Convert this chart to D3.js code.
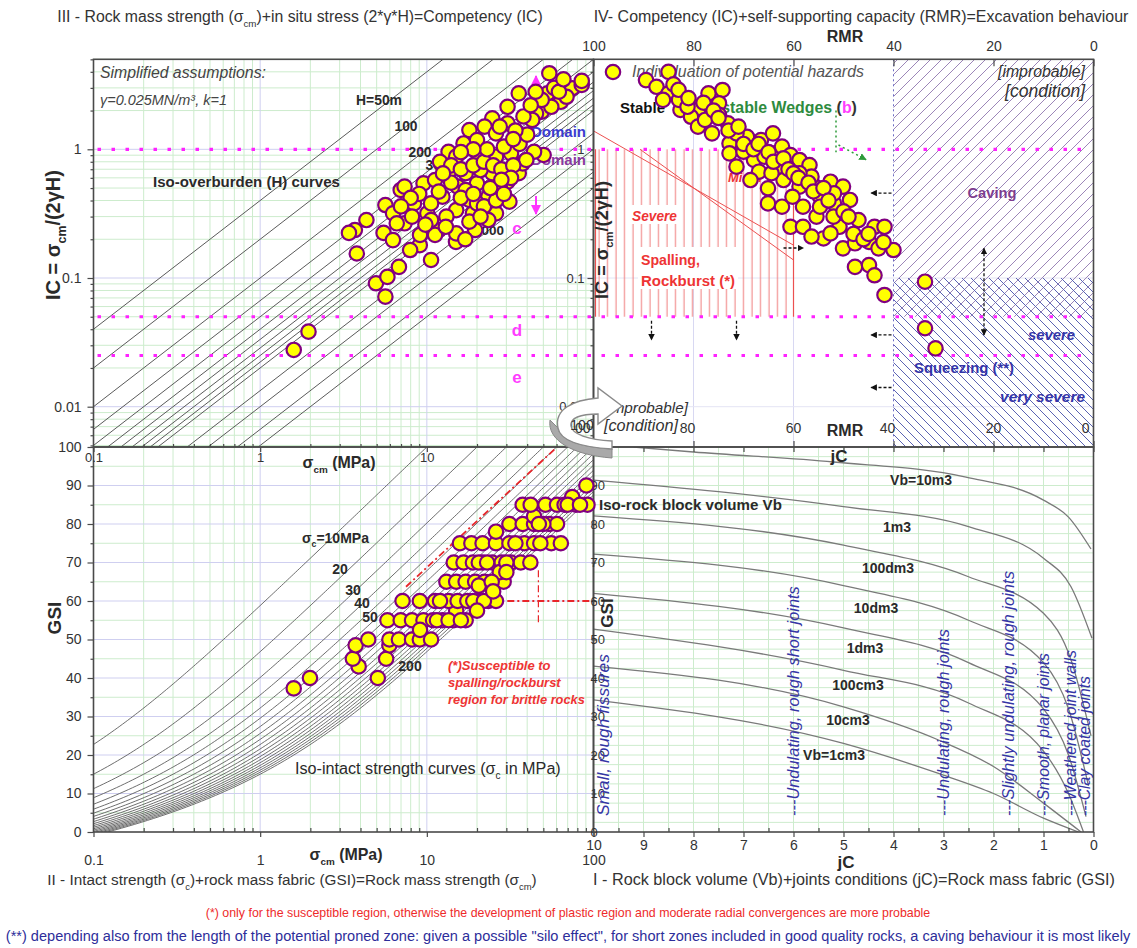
<!DOCTYPE html>
<html>
<head>
<meta charset="utf-8">
<script src="https://cdn.jsdelivr.net/npm/d3@7"></script>
<style>
  body { margin: 0; background: #fff; }
  svg { display: block; }
  text { font-family: "Liberation Sans", Arial, sans-serif; }
</style>
</head>
<body>
<script>

// ---------------- data ----------------

var overburdenH = [50, 100, 200, 300, 400, 500, 600, 700, 800, 900, 1000, 1500, 2000, 3000, 4000];   // m
var intactStrength = [10, 20, 30, 40, 50, 60, 70, 80, 90, 100, 110, 120, 130, 140, 150, 160, 170, 180, 190, 200];  // MPa
var icLimits = [1, 0.05, 0.025];

//  quadrant III : [sigma_cm (MPa), IC]
var sigmaIC = [
  [1.59,0.0276],[1.95,0.0383],[4.95,0.091],[5.8,0.102],[5.64,0.0716],[6.8,0.122],[3.8,0.155],[3.7,0.236],
  [3.41,0.224],[4.34,0.282],[5.5,0.224],[6.26,0.197],[5.64,0.369],[6.97,0.483],[7.35,0.513],[8.37,0.38],
  [9.07,0.18],[7.94,0.165],[10.6,0.138],[9.55,0.544],[7.35,0.266],[10.07,0.318],[11.8,0.236],[14.96,0.191],
  [19.5,0.236],[26,0.318],[31.3,0.392],[26.7,0.469],[35.6,0.652],[37.6,0.778],[50.2,0.903],[44,0.957],
  [48.9,1.96],[54.3,3.9],[35.6,2.72],[53,2.72],[63.7,2.34],[74.5,2.98],[85,3.16],[85,3.4],[68.9,2.56],
  [55.8,2.14],[45.2,1.9],[30.5,2.14],[24.7,1.74],[30.5,1.59],[18,1.41],[22.2,1.5],[26,1.33],[16.6,1.11],
  [13.5,0.957],[21,0.99],[32,0.93],[39.5,0.826],[17.1,0.652],[13.8,0.69],[11.2,0.577],[12.4,0.428],
  [15.3,0.513],[20,0.544],[24.7,0.652],[30.5,0.56],[23.4,0.428],[18,0.404],[15,0.337],[18.9,0.318],
  [23.4,0.282],[18,0.274],[13.1,0.3],[10.6,0.38],[11.8,0.469],[15,0.222],[11.2,0.216],[9.1,0.216],
  [8.15,0.3],[6.27,0.318],[6.6,0.266],[27.4,1.5],[48.9,2.42],[42.9,1.69],[20,1.18],[15,0.877],
  [20.5,0.826],[26,0.877],[21,0.69],[27.4,0.513],[17.1,0.483],[10.6,0.282],[20,0.38],
  [12,0.8],[14,0.75],[16,0.7],[19,0.75],[22,0.8],[25,0.75],[28,0.7],[33,0.75],[36,1.1],[40,1.3],
  [34,1.4],[38,1.8],[42,2.2],[45,2.8],[58,3.0],[62,2.8],[66,3.5],[16,0.42],[19,0.45],[22,0.36],
  [26,0.4],[29,0.45],[32,0.6],[14,0.55],[12.5,0.65],[9,0.45],[8,0.42],[7,0.36],[9.8,0.26],[13,0.25],
  [17,0.2],[21,0.3],[24,0.5],[28,0.58],[23,1.0],[19,1.0],[16,0.95],[29,1.05],[33,1.2]
];

//  quadrant IV : [RMR, IC]
var rmrIC = [
  [89.5,3.45],[85,4.0],[87.4,3.06],[85,2.72],[86.1,2.42],[82.6,2.02],[79.1,2.02],[80.5,1.79],[77,2.72],
  [74.2,2.89],[74.9,2.28],[74.9,1.85],[79.1,1.5],[76.3,1.33],[73.1,1.59],[72.8,1.11],[72.8,0.93],[69.3,1.25],
  [67.9,0.826],[66.5,1.18],[64.1,1.33],[66.9,0.67],[63.7,0.93],[62.3,1.05],[60.6,0.903],[62.7,0.733],
  [58.8,0.826],[56.8,0.755],[65.1,0.498],[62,0.577],[65.1,0.38],[62.3,0.358],[58.8,0.513],[55.7,0.513],
  [52.6,0.56],[50.1,0.513],[54.7,0.428],[51.9,0.38],[48.7,0.404],[58.1,0.358],[60.6,0.25],[58.1,0.25],
  [55.4,0.3],[54,0.203],[50.8,0.25],[47,0.282],[43.8,0.25],[41.8,0.25],[44.9,0.191],[50.1,0.17],
  [47.7,0.122],[44.9,0.126],[43.8,0.105],[40,0.165],[41.8,0.0738],[33.7,0.0936],[33.7,0.0407],[31.6,0.0284],
  [47.7,0.186],[56.4,0.21],[68.6,0.577],[71.4,0.733],[70,0.957],[60.2,0.428],[56.4,0.613],[51.9,0.455],
  [82.9,2.42],[81.2,2.14],[77.7,1.69],[71.4,1.33],[65.8,0.877],[64.4,0.652],[58.8,0.652],[54.7,0.358],[52.6,0.222],
  [84,3.2],[83,2.9],[81,2.5],[78,2.3],[76,2.0],[75,1.75],[73,1.4],[71,1.5],[70,1.1],[68,1.0],[67,1.1],
  [65,0.95],[64,0.8],[62,0.85],[61,0.7],[60,0.65],[59,0.6],[57,0.55],[56,0.47],[54,0.5],[53,0.4],
  [52,0.3],[50,0.33],[49,0.3],[48,0.22],[46,0.2],[45,0.22],[43,0.17],[42,0.19]
];

//  quadrant II : [sigma_cm (MPa), GSI]
var sigmaGSI = [
  [1.59,37.3],[1.99,40],[5.08,40],[3.9,43],[3.6,45],[5.7,45],[3.74,48.5],[4.45,50],[5.96,48.5],[5.96,50],
  [6.8,50],[8.15,50],[9.08,50],[10.6,50],[5.8,55],[6.97,55],[8.15,55],[9.55,55],[10.9,55],[12.4,55],
  [14.5,55],[17.1,55],[9.1,52.5],[15,57.5],[7.15,60],[9.08,60],[11.2,60],[13.5,60],[15.3,60],[17.5,60],
  [20.5,60],[23.4,60],[26,60],[13.1,65],[15,65],[17.1,65],[19.5,65],[22.2,65],[26,65],[28.9,65],
  [14.5,70],[16.6,70],[18.9,70],[21.6,70],[24.7,70],[28.1,70],[32,70],[36.6,70],[41.8,70],[27.4,67.5],
  [15.8,75],[18.5,75],[21.6,75],[26,75],[31.3,75],[38.5,75],[44,75],[55.8,75],[63.7,75],[26,78],
  [31.3,80],[37.6,80],[44,80],[54.3,80],[60.4,80],[44,82],[37.6,85],[51.5,85],[60.4,85],[67.1,85],
  [78.5,85],[92,85],[74.5,87],[90.6,90],[20.5,64],
  [12,60],[19,60],[22,60],[24.5,65],[11.5,55],[13.5,55],[16,55],[20.5,70],[23,70],[30,70],[34,75],
  [48,75],[50,80],[42,85],[47,80],[70,85],[83,85],[20,57.5],[25,62.5],[30,67.5]
];

//  quadrant I : iso block volume curves, [jC, GSI]
var vbNames = ["Vb=10m3", "1m3", "100dm3", "10dm3", "1dm3", "100cm3", "10cm3", "Vb=1cm3"];
var vbCurves = [
  [[9.2,100],[8,98.7],[5.2,96.1],[2.55,92.2],[1.0,86.2],[0.5,81.8],[0.05,73.5]],
  [[10,91.4],[5,84.5],[2.5,79.3],[1,71.1],[0.45,63.7],[0.03,50.3]],
  [[10,82.1],[5,74.5],[2.5,66.3],[1,56.8],[0.45,44.7],[0.05,25]],
  [[10,72.2],[5,64],[2.5,55],[1,44],[0.5,32],[0.1,12]],
  [[10,62],[5,53],[2.5,44],[1,32],[0.5,20],[0.15,4]],
  [[10,52.7],[5,42],[2.5,33.5],[1,21],[0.5,10],[0.2,0]],
  [[10,43.1],[5,32.5],[3.1,23.9],[2,17],[1,7.5],[0.25,0]],
  [[10,34.3],[5,23],[3.1,15.2],[2,10],[1,3.6],[0.3,0]]
];
var jcClasses = ["Small, rough fissures", "---Undulating, rough short joints", "---Undulating, rough joints",
  "---Slightly undulating, rough joints", "---Smooth, planar joints", "---Weathered joint walls", "---Clay coated joints"];
var jcClassAt = [9.8, 6, 3, 1.7, 1, 0.45, 0.18];

var rmrTicks = [100, 80, 60, 40, 20, 0];
var jcTicks = [10, 9, 8, 7, 6, 5, 4, 3, 2, 1, 0];

// ---------------- layout ----------------

var W = 1137, H = 948;
var xLeft = 93.5, xMid = 593.5, xRight = 1093.5;
var yTop = 59.3, yMid = 447, yBot = 832;

var narrow = "'Liberation Sans Narrow', 'Liberation Sans', Arial, sans-serif";
var green = "#cdeccd", lav = "#cfcff0";
var ink = "#2a2a2a";

var xSig = d3.scaleLog().domain([0.1, 100]).range([xLeft, xMid]);
var yIC = d3.scaleLog().domain([0.01, 1]).range([406.7, 149.3]);
var xRMR = d3.scaleLinear().domain([100, 0]).range([xMid, xRight]);
var yGSI = d3.scaleLinear().domain([0, 100]).range([yBot, yMid]);
var xJC = d3.scaleLinear().domain([10, 0]).range([xMid, xRight]);

var svg = d3.select("body").append("svg").attr("width", W).attr("height", H);
var defs = svg.append("defs");

function clip(id, x, y, w, h) {
  defs.append("clipPath").attr("id", id).append("rect").attr("x", x).attr("y", y).attr("width", w).attr("height", h);
}
clip("cIII", xLeft, yTop, xMid - xLeft, yMid - yTop);
clip("cIV", xMid, yTop, xRight - xMid, yMid - yTop);
clip("cII", xLeft, yMid, xMid - xLeft, yBot - yMid);
clip("cI", xMid, yMid, xRight - xMid, yBot - yMid);

function hatch(id, size, d, color, w) {
  var p = defs.append("pattern").attr("id", id).attr("patternUnits", "userSpaceOnUse")
    .attr("width", size).attr("height", size);
  p.append("path").attr("d", d).attr("stroke", color).attr("stroke-width", w).attr("fill", "none");
}
hatch("hPurple", 11, "M-2,2 L2,-2 M0,11 L11,0 M9,13 L13,9", "#9c86b8", 1);
hatch("hBlue", 9, "M-2,7 L2,11 M0,0 L9,9 M7,-2 L11,2", "#5b63b3", 1);
hatch("hRed", 8.5, "M4,0 L4,8.5", "#f07a7a", 1);

function marker(id, color) {
  defs.append("marker").attr("id", id).attr("viewBox", "0 0 10 10").attr("refX", 9).attr("refY", 5)
    .attr("markerWidth", 5).attr("markerHeight", 5).attr("orient", "auto-start-reverse")
    .append("path").attr("d", "M0,0 L10,5 L0,10 Z").attr("fill", color);
}
marker("aBlack", "#111");
marker("aGreen", "#2e9a3a");
marker("aMag", "#ff33ff");

//  text helpers : parts = [[string, "sub"|"sup"|null, colour], ...]
function rich(g, x, y, parts, o) {
  o = o || {};
  var size = o.size || 14;
  var t = g.append("text").attr("x", x).attr("y", y)
    .attr("font-size", size)
    .attr("text-anchor", o.anchor || "start")
    .attr("font-weight", o.weight || "normal")
    .attr("font-style", o.style || "normal")
    .attr("fill", o.fill || ink);
  if (o.family) t.style("font-family", o.family);
  if (o.rotate) t.attr("transform", "rotate(" + o.rotate + "," + x + "," + y + ")");
  var shift = 0;
  parts.forEach(function(p) {
    var s = p[1] === "sub" ? size * 0.3 : (p[1] === "sup" ? -size * 0.35 : 0);
    var ts = t.append("tspan").attr("dy", s - shift).text(p[0]);
    if (p[1]) ts.attr("font-size", size * 0.62);
    if (p[2]) ts.attr("fill", p[2]);
    shift = s;
  });
  if (o.width) {
    var bw = t.node().getComputedTextLength();
    t.remove();
    var o2 = Object.assign({}, o, {size: size * o.width / bw, width: null});
    return rich(g, x, y, parts, o2);
  }
  return t;
}
function label(g, x, y, str, o) { return rich(g, x, y, [[str, null]], o); }

// ---------------- grids ----------------

var grid = svg.append("g");
var logMinor = [], logMajor = [1, 10];
[0.1, 1, 10].forEach(function(d) { for (var k = 2; k <= 9; k++) logMinor.push(k * d); });
var icMinor = [], icMajor = [0.01, 0.1, 1];
[0.001, 0.01, 0.1, 1].forEach(function(d) { for (var k = 2; k <= 9; k++) if (k * d > 0.0048 && k * d < 5.1) icMinor.push(k * d); });

function vlines(g, vals, xs, y0, y1, color) {
  g.selectAll(null).data(vals).enter().append("line")
    .attr("x1", function(d) { return xs(d); }).attr("x2", function(d) { return xs(d); })
    .attr("y1", y0).attr("y2", y1).attr("stroke", color).attr("stroke-width", 1);
}
function hlines(g, vals, ys, x0, x1, color) {
  g.selectAll(null).data(vals).enter().append("line")
    .attr("y1", function(d) { return ys(d); }).attr("y2", function(d) { return ys(d); })
    .attr("x1", x0).attr("x2", x1).attr("stroke", color).attr("stroke-width", 1);
}
// III
vlines(grid, logMinor, xSig, yTop, yMid, green);
hlines(grid, icMinor, yIC, xLeft, xMid, green);
vlines(grid, logMajor, xSig, yTop, yMid, lav);
hlines(grid, icMajor, yIC, xLeft, xMid, lav);
// II
vlines(grid, logMinor, xSig, yMid, yBot, green);
hlines(grid, d3.range(5, 100, 10), yGSI, xLeft, xMid, green);
vlines(grid, logMajor, xSig, yMid, yBot, lav);
hlines(grid, d3.range(10, 100, 10), yGSI, xLeft, xMid, lav);
// I
vlines(grid, d3.range(0.5, 10, 0.5), xJC, yMid, yBot, green);
hlines(grid, d3.range(2.5, 100, 2.5), yGSI, xMid, xRight, green);
// IV
vlines(grid, [80, 60], xRMR, yTop, yMid, "#d8d8f2");
hlines(grid, [0.1, 0.01], yIC, xMid, xRight, "#e4e4f4");

// ---------------- quadrant IV zones ----------------

var zones = svg.append("g").attr("clip-path", "url(#cIV)");
zones.append("rect").attr("x", xRMR(40)).attr("y", yTop).attr("width", xRMR(0) - xRMR(40))
  .attr("height", yIC(0.05) - yTop).attr("fill", "url(#hPurple)");
zones.append("rect").attr("x", xRMR(40)).attr("y", yIC(0.1)).attr("width", xRMR(0) - xRMR(40))
  .attr("height", yMid - yIC(0.1)).attr("fill", "url(#hBlue)");
zones.append("line").attr("x1", xRMR(40)).attr("x2", xRMR(40)).attr("y1", yTop).attr("y2", yMid)
  .attr("stroke", "#6b6bc4").attr("stroke-width", 1).attr("stroke-dasharray", "2,3");

zones.append("rect").attr("x", xRMR(100) + 2).attr("y", yIC(1)).attr("width", xRMR(60) - xRMR(100) - 2)
  .attr("height", yIC(0.05) - yIC(1)).attr("fill", "url(#hRed)");
[100, 60].forEach(function(r) {
  zones.append("line").attr("x1", xRMR(r) + (r == 100 ? 2 : 0)).attr("x2", xRMR(r) + (r == 100 ? 2 : 0))
    .attr("y1", yIC(1)).attr("y2", yIC(0.05)).attr("stroke", "#ec5050").attr("stroke-width", 1.2);
});
[[[100, 1.39], [60, 0.18]], [[90.7, 1.0], [60, 0.138]]].forEach(function(seg) {
  zones.append("line").attr("x1", xRMR(seg[0][0])).attr("y1", yIC(seg[0][1]))
    .attr("x2", xRMR(seg[1][0])).attr("y2", yIC(seg[1][1])).attr("stroke", "#ec5050").attr("stroke-width", 1);
});

// ---------------- iso curves ----------------

var curves = svg.append("g");
var g3 = curves.append("g").attr("clip-path", "url(#cIII)");
g3.selectAll(null).data(overburdenH).enter().append("line")
  .attr("x1", xSig(0.1)).attr("x2", xSig(100))
  .attr("y1", function(h) { return yIC(0.1 / (2 * 0.025 * h)); })
  .attr("y2", function(h) { return yIC(100 / (2 * 0.025 * h)); })
  .attr("stroke", "#5a5a5a").attr("stroke-width", 1);

//  Hoek-Brown rock mass strength, sigma_cm = sigma_c * s^a
function rockMass(sc, gsi) {
  var s = Math.exp((gsi - 100) / 9);
  var a = 0.5 + (Math.exp(-gsi / 15) - Math.exp(-20 / 3)) / 6;
  return sc * Math.pow(s, a);
}
var gsiSteps = d3.range(0, 100.5, 0.5);
var hbLine = d3.line().x(function(d) { return xSig(d[0]); }).y(function(d) { return yGSI(d[1]); });
var g2 = curves.append("g").attr("clip-path", "url(#cII)");
g2.selectAll(null).data(intactStrength).enter().append("path")
  .attr("d", function(sc) { return hbLine(gsiSteps.map(function(g) { return [rockMass(sc, g), g]; })); })
  .attr("fill", "none").attr("stroke", "#5e5e5e").attr("stroke-width", 0.9);

var vbLine = d3.line().x(function(d) { return xJC(d[0]); }).y(function(d) { return yGSI(d[1]); }).curve(d3.curveMonotoneX);
var g1 = curves.append("g").attr("clip-path", "url(#cI)");
g1.selectAll(null).data(vbCurves).enter().append("path")
  .attr("d", vbLine).attr("fill", "none").attr("stroke", "#7a7a7a").attr("stroke-width", 1.3);

//  red dash-dot susceptible region (II)
var red = svg.append("g").attr("clip-path", "url(#cII)").attr("stroke", "#e8262a").attr("stroke-width", 1.8)
  .attr("stroke-dasharray", "7,3,2,3").attr("fill", "none");
red.append("line").attr("x1", xSig(7.5)).attr("y1", yGSI(63.7)).attr("x2", xSig(60.4)).attr("y2", yGSI(100));
red.append("line").attr("x1", xSig(30.4)).attr("y1", yGSI(60)).attr("x2", xSig(100)).attr("y2", yGSI(60));
red.append("line").attr("x1", xSig(46.7)).attr("y1", yGSI(68)).attr("x2", xSig(46.7)).attr("y2", yGSI(54.3))
  .attr("stroke-width", 1.2);

// ---------------- frames & axes ----------------

var axes = svg.append("g");
[[xLeft, yTop, xMid, yMid], [xMid, yTop, xRight, yMid], [xLeft, yMid, xMid, yBot], [xMid, yMid, xRight, yBot]].forEach(function(r) {
  axes.append("rect").attr("x", r[0]).attr("y", r[1]).attr("width", r[2] - r[0]).attr("height", r[3] - r[1])
    .attr("fill", "none").attr("stroke", "#4a4a4a").attr("stroke-width", 1.6);
});

function styleAxis(g, size) {
  g.select(".domain").remove();
  g.selectAll(".tick line").attr("stroke", "#4a4a4a").attr("stroke-width", 1.2);
  g.selectAll(".tick text").attr("font-size", size || 14).attr("fill", "#333")
    .style("font-family", "'Liberation Sans', Arial, sans-serif");
}
function fmtPlain(d) { return d3.format("~g")(d); }

// III left (IC)
styleAxis(axes.append("g").attr("transform", "translate(" + xLeft + ",0)")
  .call(d3.axisLeft(yIC).tickValues(icMajor).tickSize(6).tickPadding(6).tickFormat(fmtPlain)));
styleAxis(axes.append("g").attr("transform", "translate(" + xLeft + ",0)")
  .call(d3.axisLeft(yIC).tickValues(icMinor).tickSize(3).tickFormat("")));
// IV left (IC), drawn at the centre line
styleAxis(axes.append("g").attr("transform", "translate(" + xMid + ",0)")
  .call(d3.axisLeft(yIC).tickValues(icMajor).tickSize(6).tickPadding(3).tickFormat(fmtPlain)), 13);
styleAxis(axes.append("g").attr("transform", "translate(" + xMid + ",0)")
  .call(d3.axisLeft(yIC).tickValues(icMinor).tickSize(3).tickFormat("")));
// III bottom (sigma_cm)
styleAxis(axes.append("g").attr("transform", "translate(0," + yMid + ")")
  .call(d3.axisBottom(xSig).tickValues([0.1, 1, 10]).tickSize(5).tickPadding(1).tickFormat(fmtPlain)), 13);
styleAxis(axes.append("g").attr("transform", "translate(0," + yMid + ")")
  .call(d3.axisTop(xSig).tickValues(logMinor).tickSize(3).tickFormat("")));
// II left (GSI)
styleAxis(axes.append("g").attr("transform", "translate(" + xLeft + ",0)")
  .call(d3.axisLeft(yGSI).tickValues(d3.range(0, 101, 10)).tickSize(6).tickPadding(6)));
styleAxis(axes.append("g").attr("transform", "translate(" + xLeft + ",0)")
  .call(d3.axisLeft(yGSI).tickValues(d3.range(5, 100, 10)).tickSize(3).tickFormat("")));
// II bottom
styleAxis(axes.append("g").attr("transform", "translate(0," + yBot + ")")
  .call(d3.axisBottom(xSig).tickValues([0.1, 1, 10, 100]).tickSize(5).tickPadding(18).tickFormat(fmtPlain)));
styleAxis(axes.append("g").attr("transform", "translate(0," + yBot + ")")
  .call(d3.axisTop(xSig).tickValues(logMinor).tickSize(4).tickFormat("")));
// I left (GSI) labels sit on the centre line
styleAxis(axes.append("g").attr("transform", "translate(" + (xMid - 2) + ",0)")
  .call(d3.axisRight(yGSI).tickValues(d3.range(0, 100, 10)).tickSize(5).tickPadding(-6)), 13);
// I bottom (jC)
styleAxis(axes.append("g").attr("transform", "translate(0," + yBot + ")")
  .call(d3.axisBottom(xJC).tickValues(jcTicks).tickSize(5).tickPadding(3)), 14);
styleAxis(axes.append("g").attr("transform", "translate(0," + yBot + ")")
  .call(d3.axisTop(xJC).tickValues(d3.range(0.5, 10, 1)).tickSize(4).tickFormat("")));
styleAxis(axes.append("g").attr("transform", "translate(0," + yMid + ")")
  .call(d3.axisBottom(xJC).tickValues(jcTicks).tickSize(5).tickFormat("")));
// IV top (RMR)
styleAxis(axes.append("g").attr("transform", "translate(0," + yTop + ")")
  .call(d3.axisTop(xRMR).tickValues(rmrTicks).tickSizeInner(-7).tickSizeOuter(0).tickPadding(8)), 14);
styleAxis(axes.append("g").attr("transform", "translate(0," + yMid + ")")
  .call(d3.axisBottom(xRMR).tickValues(rmrTicks).tickSizeInner(-6).tickSizeOuter(0).tickFormat("")));
// IV bottom labels inside the frame
axes.selectAll(null).data(rmrTicks).enter().append("text")
  .attr("x", function(d) { return xRMR(d) + (d == 100 ? -3 : d == 0 ? -4 : d == 80 || d == 40 ? -6 : 0); })
  .attr("y", 433)
  .attr("text-anchor", function(d) { return d == 100 || d == 0 ? "end" : "middle"; })
  .attr("font-size", 14).attr("fill", "#333").text(function(d) { return d; });

// ---------------- limit lines ----------------

svg.append("g").selectAll(null).data(icLimits).enter().append("line")
  .attr("x1", xLeft + 4).attr("x2", xRight - 2)
  .attr("y1", function(d) { return yIC(d); }).attr("y2", function(d) { return yIC(d); })
  .attr("stroke", "#ff22ff").attr("stroke-width", 3.2).attr("stroke-dasharray", "3.5,10.5");

// ---------------- annotations ----------------

var ann = svg.append("g");
var sig = "\u03c3";

// titles
rich(ann, 300, 22, [["III - Rock mass strength (" + sig, null], ["cm", "sub"], [")+in situ stress (2*\u03b3*H)=Competency (IC)", null]],
  {anchor: "middle", size: 17, family: narrow, fill: "#333", width: 486});
label(ann, 861, 22, "IV- Competency (IC)+self-supporting capacity (RMR)=Excavation behaviour",
  {anchor: "middle", size: 17, family: narrow, fill: "#333", width: 535});
rich(ann, 292, 885, [["II  - Intact strength (" + sig, null], ["c", "sub"], [")+rock mass fabric (GSI)=Rock mass strength (" + sig, null], ["cm", "sub"], [")", null]],
  {anchor: "middle", size: 16, family: narrow, fill: "#333", width: 490});
label(ann, 854, 885, "I - Rock block volume (Vb)+joints conditions (jC)=Rock mass fabric (GSI)",
  {anchor: "middle", size: 16, family: narrow, fill: "#333", width: 522});
label(ann, 568, 917, "(*) only for the susceptible region, otherwise the development of plastic region and moderate radial convergences are more probable",
  {anchor: "middle", size: 14, family: narrow, fill: "#ee2a2a", width: 725});
label(ann, 568, 941, "(**) depending also from the length of the potential proned zone: given a possible \"silo effect\", for short zones included in good quality rocks, a caving behaviour it is most likely",
  {anchor: "middle", size: 14, family: narrow, fill: "#2d2d9a", width: 1126});

// axis titles
rich(ann, 60, 235, [["IC = " + sig, null], ["cm", "sub"], ["/(2\u03b3H)", null]], {anchor: "middle", size: 17, weight: "bold", rotate: -90, width: 130});
label(ann, 61, 618, "GSI", {anchor: "middle", size: 19, weight: "bold", rotate: -90});
rich(ann, 339, 468, [[sig, null], ["cm", "sub"], [" (MPa)", null]], {anchor: "middle", size: 16, weight: "bold", width: 73});
rich(ann, 346, 860, [[sig, null], ["cm", "sub"], [" (MPa)", null]], {anchor: "middle", size: 16, weight: "bold", width: 73});
label(ann, 845, 42, "RMR", {anchor: "middle", size: 16, weight: "bold"});
label(ann, 845, 436, "RMR", {anchor: "middle", size: 16, weight: "bold"});
rich(ann, 608, 240, [["IC = " + sig, null], ["cm", "sub"], ["/(2\u03b3H)", null]], {anchor: "middle", size: 15, weight: "bold", rotate: -90, width: 118});
label(ann, 839, 462, "jC", {anchor: "middle", size: 17, weight: "bold"});
label(ann, 846, 868, "jC", {anchor: "middle", size: 17, weight: "bold"});
label(ann, 613, 613, "GSI", {anchor: "middle", size: 17, weight: "bold", rotate: -90});

// quadrant III notes
label(ann, 100, 78, "Simplified assumptions:", {size: 15, style: "italic", fill: "#444", width: 166});
label(ann, 100, 105, "\u03b3=0.025MN/m\u00b3, k=1", {size: 15, style: "italic", fill: "#444", width: 127});
label(ann, 379, 105, "H=50m", {anchor: "middle", size: 14, weight: "bold", width: 46});
label(ann, 406, 131, "100", {anchor: "middle", size: 14, weight: "bold", width: 23});
label(ann, 420, 157, "200", {anchor: "middle", size: 14, weight: "bold", width: 23});
label(ann, 437, 170, "300", {anchor: "middle", size: 14, weight: "bold", width: 23});
label(ann, 489, 235, "2000", {anchor: "middle", size: 14, weight: "bold", width: 30});
label(ann, 153, 187, "Iso-overburden (H) curves", {size: 16, weight: "bold", width: 187});
label(ann, 586, 137, "Domain", {anchor: "end", size: 15, weight: "bold", fill: "#3b3bd0"});
label(ann, 586, 165, "Domain", {anchor: "end", size: 15, weight: "bold", fill: "#8a3aa0"});
[["b", 528, 114], ["c", 517, 234], ["d", 517, 336], ["e", 517, 383]].forEach(function(t) {
  label(ann, t[1], t[2], t[0], {anchor: "middle", size: 17, weight: "bold", fill: "#ff3cff"});
});
ann.append("line").attr("x1", 536).attr("x2", 536).attr("y1", 92).attr("y2", 76)
  .attr("stroke", "#ff33ff").attr("stroke-width", 2).attr("marker-end", "url(#aMag)");
ann.append("line").attr("x1", 536).attr("x2", 536).attr("y1", 196).attr("y2", 214)
  .attr("stroke", "#ff33ff").attr("stroke-width", 2).attr("marker-end", "url(#aMag)");

// quadrant II notes
rich(ann, 302, 543, [[sig, null], ["c", "sub"], ["=10MPa", null]], {size: 14, weight: "bold", width: 67});
[["20", 340, 574], ["30", 353, 595], ["40", 362, 608], ["50", 370, 622], ["200", 410, 671]].forEach(function(t) {
  label(ann, t[1], t[2], t[0], {anchor: "middle", size: 14, weight: "bold"});
});
rich(ann, 295, 774, [["Iso-intact strength curves (" + sig, null], ["c", "sub"], [" in MPa)", null]], {size: 16, width: 266});
label(ann, 448, 670, "(*)Susceptible to", {size: 13, weight: "bold", style: "italic", fill: "#ee3434"});
label(ann, 448, 687, "spalling/rockburst", {size: 13, weight: "bold", style: "italic", fill: "#ee3434"});
label(ann, 448, 704, "region for brittle rocks", {size: 13, weight: "bold", style: "italic", fill: "#ee3434", width: 137});

// quadrant IV notes
label(ann, 632, 77, "Individuation of potential hazards", {size: 15, style: "italic", fill: "#555", width: 232});
label(ann, 1085, 77, "[improbable]", {anchor: "end", size: 14, style: "italic", fill: "#333", width: 87});
label(ann, 1085, 97, "[condition]", {anchor: "end", size: 14, style: "italic", fill: "#333", width: 80});
label(ann, 620, 113, "Stable", {size: 15, weight: "bold", fill: "#111"});
rich(ann, 700, 113, [["Unstable Wedges ", null, "#2e8b3e"], ["(", null, "#333"], ["b", null, "#ff3cff"], [")", null, "#333"]],
  {size: 15, weight: "bold", width: 157});
label(ann, 728, 182, "Minor", {size: 13, weight: "bold", style: "italic", fill: "#ee3434"});
ann.append("rect").attr("x", 628).attr("y", 205).attr("width", 52).attr("height", 19).attr("fill", "#fff");
label(ann, 632, 221, "Severe", {size: 14, weight: "bold", style: "italic", fill: "#ee3434", width: 45});
ann.append("rect").attr("x", 638).attr("y", 247).attr("width", 100).attr("height", 42).attr("fill", "#fff");
label(ann, 641, 265, "Spalling,", {size: 15, weight: "bold", fill: "#ee3434", width: 59});
label(ann, 641, 286, "Rockburst (*)", {size: 15, weight: "bold", fill: "#ee3434", width: 94});
label(ann, 992, 198, "Caving", {anchor: "middle", size: 16, weight: "bold", fill: "#7d3d8f", width: 49});
label(ann, 1075, 340, "severe", {anchor: "end", size: 15, weight: "bold", style: "italic", fill: "#3434a8", width: 47});
label(ann, 964, 373, "Squeezing (**)", {anchor: "middle", size: 15, weight: "bold", fill: "#3434a8", width: 100});
label(ann, 1085, 402, "very severe", {anchor: "end", size: 15, weight: "bold", style: "italic", fill: "#3434a8", width: 85});
label(ann, 604, 413, "[improbable]", {size: 14, style: "italic", fill: "#333", width: 84});
label(ann, 604, 431, "[condition]", {size: 14, style: "italic", fill: "#333", width: 74});

//  black arrows of quadrant IV
var arr = ann.append("g").attr("stroke", "#111").attr("stroke-width", 1.3).attr("stroke-dasharray", "3,2");
[0.457, 0.171, 0.0361, 0.0141].forEach(function(ic) {
  arr.append("line").attr("x1", xRMR(40) - 2).attr("x2", xRMR(44.5)).attr("y1", yIC(ic)).attr("y2", yIC(ic))
    .attr("marker-end", "url(#aBlack)");
});
arr.append("line").attr("x1", xRMR(62)).attr("x2", xRMR(58)).attr("y1", yIC(0.171)).attr("y2", yIC(0.171))
  .attr("marker-end", "url(#aBlack)");
[88.4, 71.4].forEach(function(r) {
  arr.append("line").attr("x1", xRMR(r)).attr("x2", xRMR(r)).attr("y1", yIC(0.05) + 4).attr("y2", yIC(0.033))
    .attr("marker-end", "url(#aBlack)");
});
arr.append("line").attr("x1", xRMR(21.9)).attr("x2", xRMR(21.9)).attr("y1", yIC(0.17)).attr("y2", yIC(0.036))
  .attr("marker-start", "url(#aBlack)").attr("marker-end", "url(#aBlack)");
var grn = ann.append("g").attr("stroke", "#2e9a3a").attr("stroke-width", 1.5).attr("stroke-dasharray", "2,3").attr("fill", "none");
grn.append("path").attr("d", "M" + xRMR(51.5) + "," + yIC(2.0) + " L" + xRMR(51.5) + "," + yIC(0.95));
grn.append("line").attr("x1", xRMR(51)).attr("y1", yIC(1.08)).attr("x2", xRMR(45.5)).attr("y2", yIC(0.83))
  .attr("marker-end", "url(#aGreen)");

// quadrant I notes
label(ann, 599, 510, "Iso-rock block volume Vb", {size: 16, weight: "bold", width: 183});
var vbLabelPos = [[921, 485], [897, 532], [888, 573], [876, 613], [865, 653], [858, 690], [848, 725], [834, 760]];
vbNames.forEach(function(n, i) {
  label(ann, vbLabelPos[i][0], vbLabelPos[i][1], n, {anchor: "middle", size: 14, weight: "bold"});
});
var jcClassLen = [162, 230, 187, 245, 163, 166, 140];
jcClasses.forEach(function(c, i) {
  var x = xJC(jcClassAt[i]) + 5;
  label(ann, x, 816, c, {size: 14, style: "italic", fill: "#3535a5", rotate: -90, width: jcClassLen[i]});
});

// ---------------- points ----------------

var pts = svg.append("g");
function drawPoints(data, xs, ys) {
  pts.append("g").selectAll("circle").data(data).enter().append("circle")
    .attr("cx", function(d) { return xs(d[0]); })
    .attr("cy", function(d) { return ys(d[1]); })
    .attr("r", 7.2).attr("fill", "#ffff00").attr("stroke", "#800080").attr("stroke-width", 2.2);
}
drawPoints(sigmaIC, xSig, yIC);
drawPoints(rmrIC, xRMR, yIC);
drawPoints(sigmaGSI, xSig, yGSI);
// legend marker
pts.append("circle").attr("cx", 613).attr("cy", 72).attr("r", 7.2)
  .attr("fill", "#ffff00").attr("stroke", "#800080").attr("stroke-width", 2.2);

// ---------------- curved arrow ----------------

var ca = svg.append("g");
ca.append("path")
  .attr("d", "M550,420 C547,440 572,455 612,458 L612,449 C580,447 560,440 558,428 Z")
  .attr("fill", "#a9a9a9").attr("stroke", "#888").attr("stroke-width", 1);
ca.append("path")
  .attr("d", "M558,428 C554,410 572,400 598,398 L598,388 L622,406 L598,424 L598,414 C580,414 570,418 571,426 C572,434 588,440 612,441 L612,449 C580,447 560,440 558,428 Z")
  .attr("fill", "#fff").attr("stroke", "#8a8a8a").attr("stroke-width", 1.4);
label(ca, 582, 430, "100", {anchor: "middle", size: 14, fill: "#333"});

</script>
</body>
</html>
